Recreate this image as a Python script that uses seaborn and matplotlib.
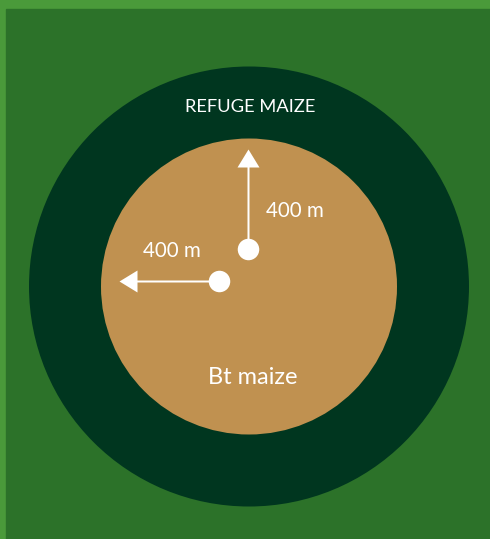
import matplotlib
matplotlib.use("Agg")
import matplotlib.pyplot as plt
from matplotlib.patches import Circle, Rectangle
import seaborn as sns
import pandas as pd

# zones (outer ring first), drawn as concentric circles
zone_names = ["REFUGE MAIZE", "Bt maize"]
zone_radius = [220, 148]
zone_colors = ["#00361f", "#c09150"]

# the two 400 m arrows: start dot and direction
arrow_labels = ["400 m", "400 m"]
arrow_x0 = [248.5, 219.5]
arrow_y0 = [249.5, 281.5]
arrow_dx = [0, -100]
arrow_dy = [-100, 0]

sns.set_theme(style="white")
plt.rcParams['font.family'] = ['Lato', 'DejaVu Sans']

fig = plt.figure(figsize=(4.9, 5.39), dpi=100)
fig.patch.set_facecolor("#4a9a3a")
ax = fig.add_axes([0, 0, 1, 1])
ax.set_xlim(0, 490)
ax.set_ylim(539, 0)
ax.set_aspect("equal")
ax.axis("off")

# field background
ax.add_patch(Rectangle((6, 9), 490, 539, color="#2c7229", zorder=0))

cx, cy = 249, 286.5
for r, c in zip(zone_radius, zone_colors):
    ax.add_patch(Circle((cx, cy), r, color=c, zorder=1, lw=0))

# arrows
for x0, y0, dx, dy in zip(arrow_x0, arrow_y0, arrow_dx, arrow_dy):
    ax.arrow(x0, y0, dx, dy, width=2, head_width=22, head_length=18,
             length_includes_head=True, color="white", lw=0, zorder=3)

dots = pd.DataFrame({"x": arrow_x0, "y": arrow_y0})
sns.scatterplot(data=dots, x="x", y="y", s=240, color="white",
                edgecolor="none", ax=ax, zorder=4, legend=False)
ax.set_xlabel("")
ax.set_ylabel("")

ax.text(266, 211, arrow_labels[0], color="white", fontsize=14.8,
        ha="left", va="center", zorder=5)
ax.text(172, 251, arrow_labels[1], color="white", fontsize=14.8,
        ha="center", va="center", zorder=5)

ax.text(250, 107, zone_names[0], color="white", fontsize=13.2,
        ha="center", va="center", zorder=5)
ax.text(253, 377, zone_names[1], color="white", fontsize=17,
        ha="center", va="center", zorder=5)

fig.savefig("out.png", dpi=100, facecolor=fig.get_facecolor())
